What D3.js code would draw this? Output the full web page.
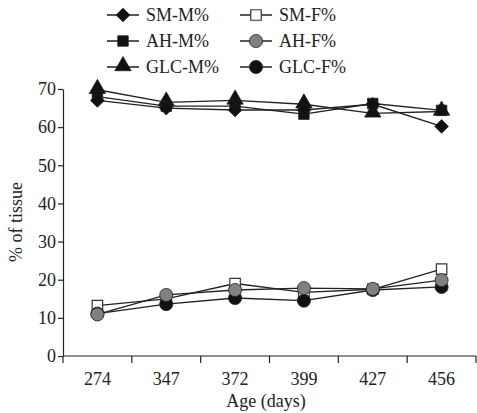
<!DOCTYPE html>
<html>
<head>
<meta charset="utf-8">
<script src="https://cdn.jsdelivr.net/npm/d3@7/dist/d3.min.js"></script>
<style>
html,body{margin:0;padding:0;background:#fff;}
svg{display:block;font-family:"Liberation Serif","Times New Roman",serif;}
</style>
</head>
<body>
<svg id="chart" width="477" height="413"></svg>
<script>
const categories = ["274", "347", "372", "399", "427", "456"];
const yTicks = [0, 10, 20, 30, 40, 50, 60, 70];
const smM = [67, 65, 64.5, 64.5, 66, 60.2];
const ahM = [68, 65.5, 65.5, 63.4, 66.2, 64.4];
const glcM = [69.8, 66.5, 67, 66, 63.6, 64.1];
const smF = [13.2, 15, 19, 16.7, 17.5, 22.8];
const ahF = [10.9, 16, 17.3, 17.8, 17.6, 19.9];
const glcF = [11.1, 13.6, 15.2, 14.5, 17.3, 18.1];

const series = [
  {name: "SM-M%", values: smM, shape: "diamond", fill: "#111"},
  {name: "SM-F%", values: smF, shape: "square", fill: "#fff"},
  {name: "AH-M%", values: ahM, shape: "square", fill: "#111"},
  {name: "AH-F%", values: ahF, shape: "circle", fill: "#808080"},
  {name: "GLC-M%", values: glcM, shape: "triangle", fill: "#111"},
  {name: "GLC-F%", values: glcF, shape: "circle", fill: "#111"}
];
// drawing order of markers (later = on top)
const drawOrder = ["GLC-M%", "AH-M%", "SM-M%", "SM-F%", "GLC-F%", "AH-F%"];

const svg = d3.select("#chart");
const x = d3.scaleBand().domain(categories).range([63, 476]).padding(0);
const y = d3.scaleLinear().domain([0, 70]).range([356, 89]);

function symbolPath(shape) {
  const map = {
    diamond: d3.symbol().type(d3.symbolDiamond2).size(120),
    square: d3.symbol().type(d3.symbolSquare).size(110),
    triangle: d3.symbol().type(d3.symbolTriangle).size(115),
    circle: d3.symbol().type(d3.symbolCircle).size(135)
  };
  return map[shape]();
}
function drawMarker(g, s, cx, cy) {
  const open = s.shape === "square" && s.fill === "#fff";
  return g.append("path").attr("d", symbolPath(s.shape))
    .attr("transform", `translate(${cx},${cy})` + (s.shape === "triangle" ? " translate(0,-1)" : ""))
    .attr("fill", s.fill)
    .attr("stroke", open ? "#333" : "#222")
    .attr("stroke-width", open ? 1.2 : 0.8);
}

// Y axis
const yAxis = d3.axisLeft(y).tickValues(yTicks).tickSize(5).tickPadding(2).tickSizeOuter(0);
const gy = svg.append("g").attr("transform", "translate(63,0)").call(yAxis);
gy.select(".domain").attr("stroke", "#222").attr("stroke-width", 1.2);
gy.selectAll(".tick line").attr("stroke", "#222").attr("stroke-width", 1.2);
gy.selectAll(".tick text").attr("font-size", 18).attr("font-family", "Liberation Serif").attr("fill", "#222");

// X axis
const gx = svg.append("g").attr("transform", "translate(0,356)");
gx.append("line").attr("x1", 63).attr("x2", 476).attr("y1", 0).attr("y2", 0)
  .attr("stroke", "#222").attr("stroke-width", 1.2);
const bounds = categories.map(c => x(c)).concat([x(categories[categories.length - 1]) + x.bandwidth()]);
gx.selectAll("line.tk").data(bounds).enter().append("line").attr("class", "tk")
  .attr("x1", d => d).attr("x2", d => d).attr("y1", 0).attr("y2", 7)
  .attr("stroke", "#222").attr("stroke-width", 1.2);
gx.selectAll("text").data(categories).enter().append("text")
  .attr("x", d => x(d) + x.bandwidth() / 2).attr("y", 29)
  .attr("text-anchor", "middle").attr("font-size", 18).attr("fill", "#222").text(d => d);

svg.append("text").attr("x", 266).attr("y", 407).attr("text-anchor", "middle")
  .attr("font-size", 18).attr("fill", "#222").text("Age (days)");
svg.append("text").attr("transform", "translate(22,222) rotate(-90)").attr("text-anchor", "middle")
  .attr("font-size", 18).attr("fill", "#222").text("% of tissue");

// Lines
const line = d3.line().x((d, i) => x(categories[i]) + x.bandwidth() / 2).y(d => y(d));
series.forEach(s => {
  svg.append("path").datum(s.values).attr("d", line)
    .attr("fill", "none").attr("stroke", "#222").attr("stroke-width", 1.3);
});

// Markers
const gm = svg.append("g");
drawOrder.forEach(n => {
  const s = series.find(t => t.name === n);
  s.values.forEach((v, i) => drawMarker(gm, s, x(categories[i]) + x.bandwidth() / 2, y(v)));
});

// Legend
const legendCols = [{x1: 107, x2: 139, tx: 146}, {x1: 240, x2: 272, tx: 279}];
const legendRows = [15, 41, 67];
const lg = svg.append("g");
series.forEach((s, i) => {
  const col = legendCols[i % 2], ry = legendRows[Math.floor(i / 2)];
  lg.append("line").attr("x1", col.x1).attr("x2", col.x2).attr("y1", ry).attr("y2", ry)
    .attr("stroke", "#222").attr("stroke-width", 1.5);
  drawMarker(lg, s, (col.x1 + col.x2) / 2, ry);
  lg.append("text").attr("x", col.tx).attr("y", ry).attr("dy", "0.35em")
    .attr("font-size", 18).attr("fill", "#222").text(s.name);
});
</script>
</body>
</html>
